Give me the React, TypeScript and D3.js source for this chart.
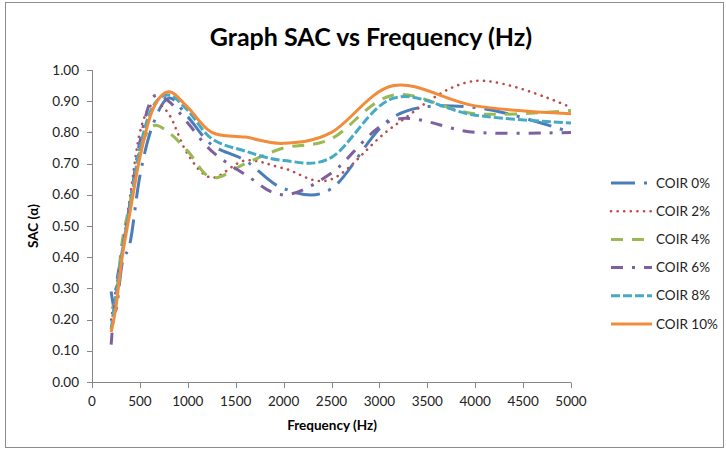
import React from "react";
import * as d3 from "d3";

const frequencies = [200, 250, 315, 400, 500, 630, 800, 1000, 1250, 1600, 2000, 2500, 3150, 4000, 5000];
const coir0 = [0.29, 0.23, 0.38, 0.45, 0.66, 0.82, 0.91, 0.85, 0.76, 0.71, 0.62, 0.62, 0.85, 0.88, 0.80];
const coir2 = [0.20, 0.30, 0.42, 0.60, 0.80, 0.89, 0.86, 0.73, 0.655, 0.71, 0.685, 0.65, 0.82, 0.965, 0.88];
const coir4 = [0.24, 0.27, 0.45, 0.58, 0.74, 0.82, 0.80, 0.74, 0.655, 0.70, 0.75, 0.78, 0.92, 0.86, 0.87];
const coir6 = [0.12, 0.30, 0.42, 0.58, 0.77, 0.91, 0.90, 0.83, 0.74, 0.665, 0.60, 0.67, 0.84, 0.80, 0.80];
const coir8 = [0.17, 0.28, 0.42, 0.57, 0.75, 0.88, 0.92, 0.87, 0.78, 0.74, 0.71, 0.72, 0.91, 0.855, 0.83];
const coir10 = [0.16, 0.24, 0.40, 0.55, 0.72, 0.87, 0.93, 0.88, 0.80, 0.785, 0.765, 0.80, 0.95, 0.885, 0.86];

const seriesNames = ["COIR 0%", "COIR 2%", "COIR 4%", "COIR 6%", "COIR 8%", "COIR 10%"];
const seriesValues = [coir0, coir2, coir4, coir6, coir8, coir10];
const xTicks = [0, 500, 1000, 1500, 2000, 2500, 3000, 3500, 4000, 4500, 5000];
const yTicks = [0, 0.1, 0.2, 0.3, 0.4, 0.5, 0.6, 0.7, 0.8, 0.9, 1.0];

const styles = [
  { color: "#4A7EBB", dash: "24,9,3,9", cap: "butt", w: 3 },
  { color: "#BE4B48", dash: "0.1,6.5", cap: "round", w: 2.6 },
  { color: "#98B954", dash: "12,9", cap: "butt", w: 3 },
  { color: "#7D60A0", dash: "12,9,3,9", cap: "butt", w: 3 },
  { color: "#46AAC5", dash: "9,3", cap: "butt", w: 3 },
  { color: "#F28C3A", dash: "none", cap: "butt", w: 3 },
];

const font = "Lato, 'Open Sans', sans-serif";

export default function App() {
  const x = d3.scaleLinear().domain([0, 5000]).range([92, 571]);
  const y = d3.scaleLinear().domain([0, 1]).range([382, 70]);
  const line = d3
    .line<[number, number]>()
    .x((d) => x(d[0]))
    .y((d) => y(d[1]))
    .curve(d3.curveCardinal.tension(0));

  return (
    <div style={{ position: "absolute", left: 0, top: 0 }}>
      <svg width={726} height={450} style={{ display: "block", background: "#fff" }}>
        <rect x={5.5} y={2.5} width={718} height={445} fill="#fff" stroke="#8c8c8c" strokeWidth={1} />
        <text x={371} y={46} textAnchor="middle" fontFamily={font} fontWeight="bold" fontSize={25} fill="#000">
          Graph SAC vs Frequency (Hz)
        </text>
        {/* y axis */}
        <line x1={92.5} x2={92.5} y1={y(1)} y2={y(0)} stroke="#868686" />
        {yTicks.map((t) => (
          <g key={t}>
            <line x1={87} x2={92.5} y1={Math.round(y(t)) + 0.5} y2={Math.round(y(t)) + 0.5} stroke="#868686" />
            <text x={79} y={y(t) + 4.5} textAnchor="end" fontFamily={font} fontSize={13.5} fill="#222">
              {d3.format(".2f")(t)}
            </text>
          </g>
        ))}
        {/* x axis */}
        <line x1={x(0)} x2={x(5000)} y1={382.5} y2={382.5} stroke="#868686" />
        {xTicks.map((t) => (
          <g key={t}>
            <line x1={Math.round(x(t)) + 0.5} x2={Math.round(x(t)) + 0.5} y1={382.5} y2={388} stroke="#868686" />
            <text x={x(t)} y={406} textAnchor="middle" fontFamily={font} fontSize={13.5} fill="#222">
              {t}
            </text>
          </g>
        ))}
        <text x={332} y={430} textAnchor="middle" fontFamily={font} fontWeight="bold" fontSize={13.5} fill="#000">
          Frequency (Hz)
        </text>
        <text
          transform={`translate(38,226) rotate(-90)`}
          textAnchor="middle"
          fontFamily={font}
          fontWeight="bold"
          fontSize={13.5}
          fill="#000"
        >
          SAC (α)
        </text>
        {/* series */}
        {seriesValues.map((vals, i) => (
          <path
            key={seriesNames[i]}
            d={line(frequencies.map((f, j) => [f, vals[j]] as [number, number])) || ""}
            fill="none"
            stroke={styles[i].color}
            strokeWidth={styles[i].w}
            strokeDasharray={styles[i].dash}
            strokeLinecap={styles[i].cap as any}
            strokeLinejoin="round"
          />
        ))}
        {/* legend */}
        {seriesNames.map((name, i) => {
          const ly = 183 + i * 28.2;
          return (
            <g key={name}>
              <line
                x1={611}
                x2={652}
                y1={ly}
                y2={ly}
                stroke={styles[i].color}
                strokeWidth={styles[i].w}
                strokeDasharray={styles[i].dash}
                strokeLinecap={styles[i].cap as any}
              />
              <text x={656} y={ly + 4.5} fontFamily={font} fontSize={13.5} fill="#222">
                {name}
              </text>
            </g>
          );
        })}
      </svg>
    </div>
  );
}
